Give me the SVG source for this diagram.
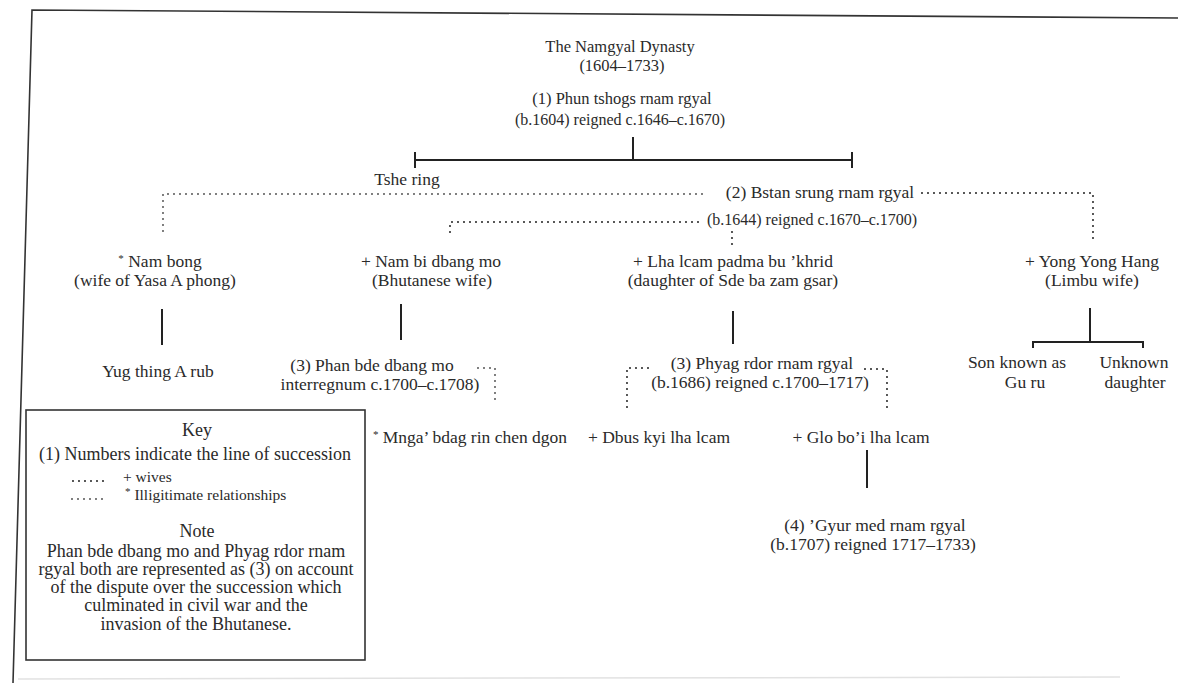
<svg xmlns="http://www.w3.org/2000/svg" width="1178" height="683" viewBox="0 0 1178 683">
<style>
.t{font-family:"Liberation Serif","Times New Roman",serif;font-size:17.5px;fill:#2a2a2a;text-anchor:middle}
.top{font-size:16.5px}
.sm{font-size:16px}
.k{font-size:18px}
.ks{font-size:15.5px;text-anchor:start}
.st{font-size:11px}
.frame{stroke:#333;stroke-width:1.6;fill:none}
.solid{stroke:#222;stroke-width:2;fill:none}
.dot{stroke:#333;stroke-width:2.2;fill:none;stroke-dasharray:0 6;stroke-linecap:round}
.dot2{stroke:#555;stroke-width:2;fill:none;stroke-dasharray:0 6;stroke-linecap:round}
</style>
<rect x="0" y="0" width="1178" height="683" fill="#fff"/>
<g id="frame">
<polyline class="frame" points="1178,18 32,10 13,683"/>
<line x1="18" y1="679" x2="1120" y2="677" stroke="#e2e2e2" stroke-width="1.5"/>
</g>
<g id="connectors">
<line class="solid" x1="633" y1="137" x2="633" y2="160"/>
<line class="solid" x1="415" y1="160" x2="852" y2="160"/>
<line class="solid" x1="415" y1="152" x2="415" y2="168"/>
<line class="solid" x1="852" y1="152" x2="852" y2="168"/>
<polyline class="dot2" points="702,194 163,194 163,234"/>
<polyline class="dot" points="698,222 450,222 450,238"/>
<line class="dot" x1="732" y1="232" x2="732" y2="246"/>
<polyline class="dot" points="922,193 1093,193 1093,241"/>
<line class="solid" x1="162" y1="309" x2="162" y2="345"/>
<line class="solid" x1="401" y1="304" x2="401" y2="340"/>
<line class="solid" x1="733" y1="311" x2="733" y2="344"/>
<line class="solid" x1="1090" y1="308" x2="1090" y2="342"/>
<polyline class="solid" points="1033,348 1033,342 1143,342 1143,348"/>
<polyline class="dot2" points="478,368 495,368 495,400"/>
<polyline class="dot" points="648,368 627,368 627,410"/>
<polyline class="dot" points="865,369 887,369 887,410"/>
<line class="solid" x1="867" y1="450" x2="867" y2="488"/>
</g>
<g id="title">
<text class="t top" x="620" y="52">The Namgyal Dynasty</text>
<text class="t top" x="622" y="71">(1604–1733)</text>
</g>
<g id="n1">
<text class="t top" x="622" y="104">(1) Phun tshogs rnam rgyal</text>
<text class="t sm" x="620" y="125">(b.1604) reigned c.1646–c.1670)</text>
</g>
<g id="tshering">
<text class="t" x="407" y="185">Tshe ring</text>
</g>
<g id="n2">
<text class="t" x="820" y="198">(2) Bstan srung rnam rgyal</text>
<text class="t sm" x="812" y="225">(b.1644) reigned c.1670–c.1700)</text>
</g>
<g id="nambong">
<text class="t" x="160" y="267"><tspan class="st" dy="-5">*</tspan><tspan dy="5"> Nam bong</tspan></text>
<text class="t" x="155" y="286">(wife of Yasa A phong)</text>
</g>
<g id="yugthing">
<text class="t" x="158" y="377">Yug thing A rub</text>
</g>
<g id="nambi">
<text class="t" x="431" y="267">+ Nam bi dbang mo</text>
<text class="t" x="432" y="286">(Bhutanese wife)</text>
</g>
<g id="phanbde">
<text class="t" x="372" y="371">(3) Phan bde dbang mo</text>
<text class="t" x="380" y="390">interregnum c.1700–c.1708)</text>
</g>
<g id="mngabdag">
<text class="t" x="470" y="443"><tspan class="st" dy="-5">*</tspan><tspan dy="5"> Mnga’ bdag rin chen dgon</tspan></text>
</g>
<g id="lhalcam">
<text class="t" x="733" y="267">+ Lha lcam padma bu ’khrid</text>
<text class="t" x="733" y="286">(daughter of Sde ba zam gsar)</text>
</g>
<g id="phyag">
<text class="t" x="762" y="369">(3) Phyag rdor rnam rgyal</text>
<text class="t" x="760" y="388">(b.1686) reigned c.1700–1717)</text>
</g>
<g id="dbus">
<text class="t" x="659" y="443">+ Dbus kyi lha lcam</text>
</g>
<g id="globo">
<text class="t" x="861" y="443">+ Glo bo’i lha lcam</text>
</g>
<g id="gyur">
<text class="t" x="875" y="531">(4) ’Gyur med rnam rgyal</text>
<text class="t" x="873" y="550">(b.1707) reigned 1717–1733)</text>
</g>
<g id="yong">
<text class="t" x="1092" y="267">+ Yong Yong Hang</text>
<text class="t" x="1092" y="286">(Limbu wife)</text>
</g>
<g id="son">
<text class="t" x="1017" y="368">Son known as</text>
<text class="t" x="1025" y="388">Gu ru</text>
</g>
<g id="daughter">
<text class="t" x="1134" y="368">Unknown</text>
<text class="t" x="1135" y="388">daughter</text>
</g>
<g id="key">
<rect x="26" y="410" width="339" height="250" fill="none" stroke="#333" stroke-width="1.6"/>
<text class="t k" x="197" y="436">Key</text>
<text class="t k" x="195" y="460">(1) Numbers indicate the line of succession</text>
<line class="dot" x1="73" y1="481" x2="107" y2="481" stroke-dasharray="0 7.5"/>
<text class="t ks" x="123" y="482">+ wives</text>
<line class="dot2" x1="72" y1="499" x2="106" y2="499" stroke-dasharray="0 7.5"/>
<text class="t ks" x="125" y="500"><tspan class="st" dy="-5">*</tspan><tspan dy="5"> Illigitimate relationships</tspan></text>
<text class="t k" x="197" y="537">Note</text>
<text class="t k" x="196" y="557">Phan bde dbang mo and Phyag rdor rnam</text>
<text class="t k" x="196" y="575">rgyal both are represented as (3) on account</text>
<text class="t k" x="196" y="593">of the dispute over the succession which</text>
<text class="t k" x="196" y="611">culminated in civil war and the</text>
<text class="t k" x="196" y="630">invasion of the Bhutanese.</text>
</g>
</svg>
